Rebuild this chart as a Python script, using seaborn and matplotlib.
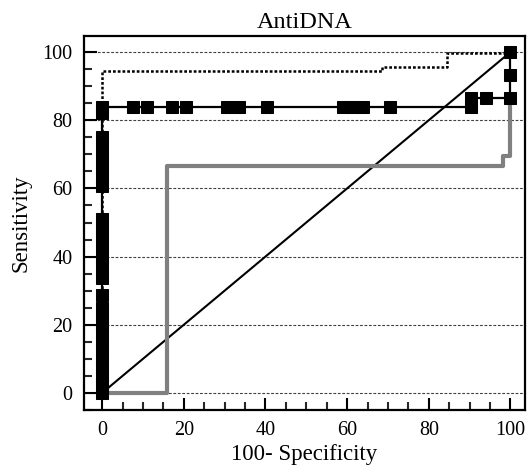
import matplotlib
matplotlib.use("Agg")
import matplotlib.pyplot as plt
from matplotlib.ticker import MultipleLocator
import seaborn as sns

# ROC criterion points (100-specificity, sensitivity)
roc_fpr = [0, 0, 0, 0, 0, 0, 0, 0, 0, 0, 0, 0,
           0, 0, 0, 0, 0, 0, 0,
           0, 0, 0, 0, 0, 0,
           0, 0,
           7.5, 11, 17, 20.5, 30.5, 33.5, 40.5, 59, 61.5, 64, 70.5, 90.4,
           90.4, 94, 100, 100, 100]
roc_tpr = [0, 2.5, 5, 7.5, 10, 12.5, 15, 17.5, 20, 22.5, 25, 28.6,
           33.7, 37, 40, 43, 46, 48.5, 51,
           60.7, 63, 66, 69, 72, 75,
           82, 84,
           84, 84, 84, 84, 84, 84, 84, 84, 84, 84, 84, 84,
           86.6, 86.6, 86.6, 93.2, 100]

# upper confidence bound (dotted)
upper_fpr = [0, 0, 68.5, 68.5, 84.5, 84.5, 100, 100]
upper_tpr = [0, 94.5, 94.5, 95.5, 95.5, 99.6, 99.6, 100]

# lower confidence bound (grey)
lower_fpr = [0, 16, 16, 98.3, 98.3, 100, 100]
lower_tpr = [0, 0, 66.5, 66.5, 69.5, 69.5, 86.5]

diag = [0, 100]

sns.set_style("ticks")
plt.rcParams["font.family"] = ["Liberation Serif", "DejaVu Serif"]
plt.rcParams["text.color"] = "black"
plt.rcParams["axes.labelcolor"] = "black"

fig = plt.figure(figsize=(5.3, 4.71), dpi=100)
ax = fig.add_axes([0.158, 0.1295, 0.832, 0.794])

ax.yaxis.grid(True, color="0.25", linestyle=(0, (2.5, 1.5)), linewidth=0.8, zorder=0)
ax.set_axisbelow(True)

sns.lineplot(x=diag, y=diag, color="black", linewidth=1.5, ax=ax, zorder=2)
sns.lineplot(x=lower_fpr, y=lower_tpr, sort=False, estimator=None,
             color="#808080", linewidth=3, ax=ax, zorder=3)
sns.lineplot(x=upper_fpr, y=upper_tpr, sort=False, estimator=None,
             color="black", linewidth=1.8, linestyle=(0, (1.1, 0.8)), ax=ax, zorder=3)
sns.lineplot(x=roc_fpr, y=roc_tpr, sort=False, estimator=None,
             color="black", linewidth=1.6, marker="s", markersize=9,
             markeredgecolor="black", ax=ax, zorder=4)

ax.set_xlim(-4.5, 103.5)
ax.set_ylim(-5, 104.7)
ax.xaxis.set_major_locator(MultipleLocator(20))
ax.xaxis.set_minor_locator(MultipleLocator(5))
ax.yaxis.set_major_locator(MultipleLocator(20))
ax.yaxis.set_minor_locator(MultipleLocator(5))
ax.tick_params(which="major", direction="in", length=9, width=1.5, labelsize=14.5,
               colors="black", labelcolor="black", pad=8, top=False, right=False)
ax.tick_params(which="minor", direction="in", length=6, width=1.5, top=False, right=False)
for s in ax.spines.values():
    s.set_linewidth(1.6)
    s.set_color("black")
    s.set_visible(True)

ax.set_title("AntiDNA", fontsize=17.5, pad=6, color="black")
ax.set_xlabel("100- Specificity", fontsize=16.5, labelpad=3, color="black")
ax.set_ylabel("Sensitivity", fontsize=16.5, labelpad=8, color="black")

fig.savefig("out.png", dpi=100)
